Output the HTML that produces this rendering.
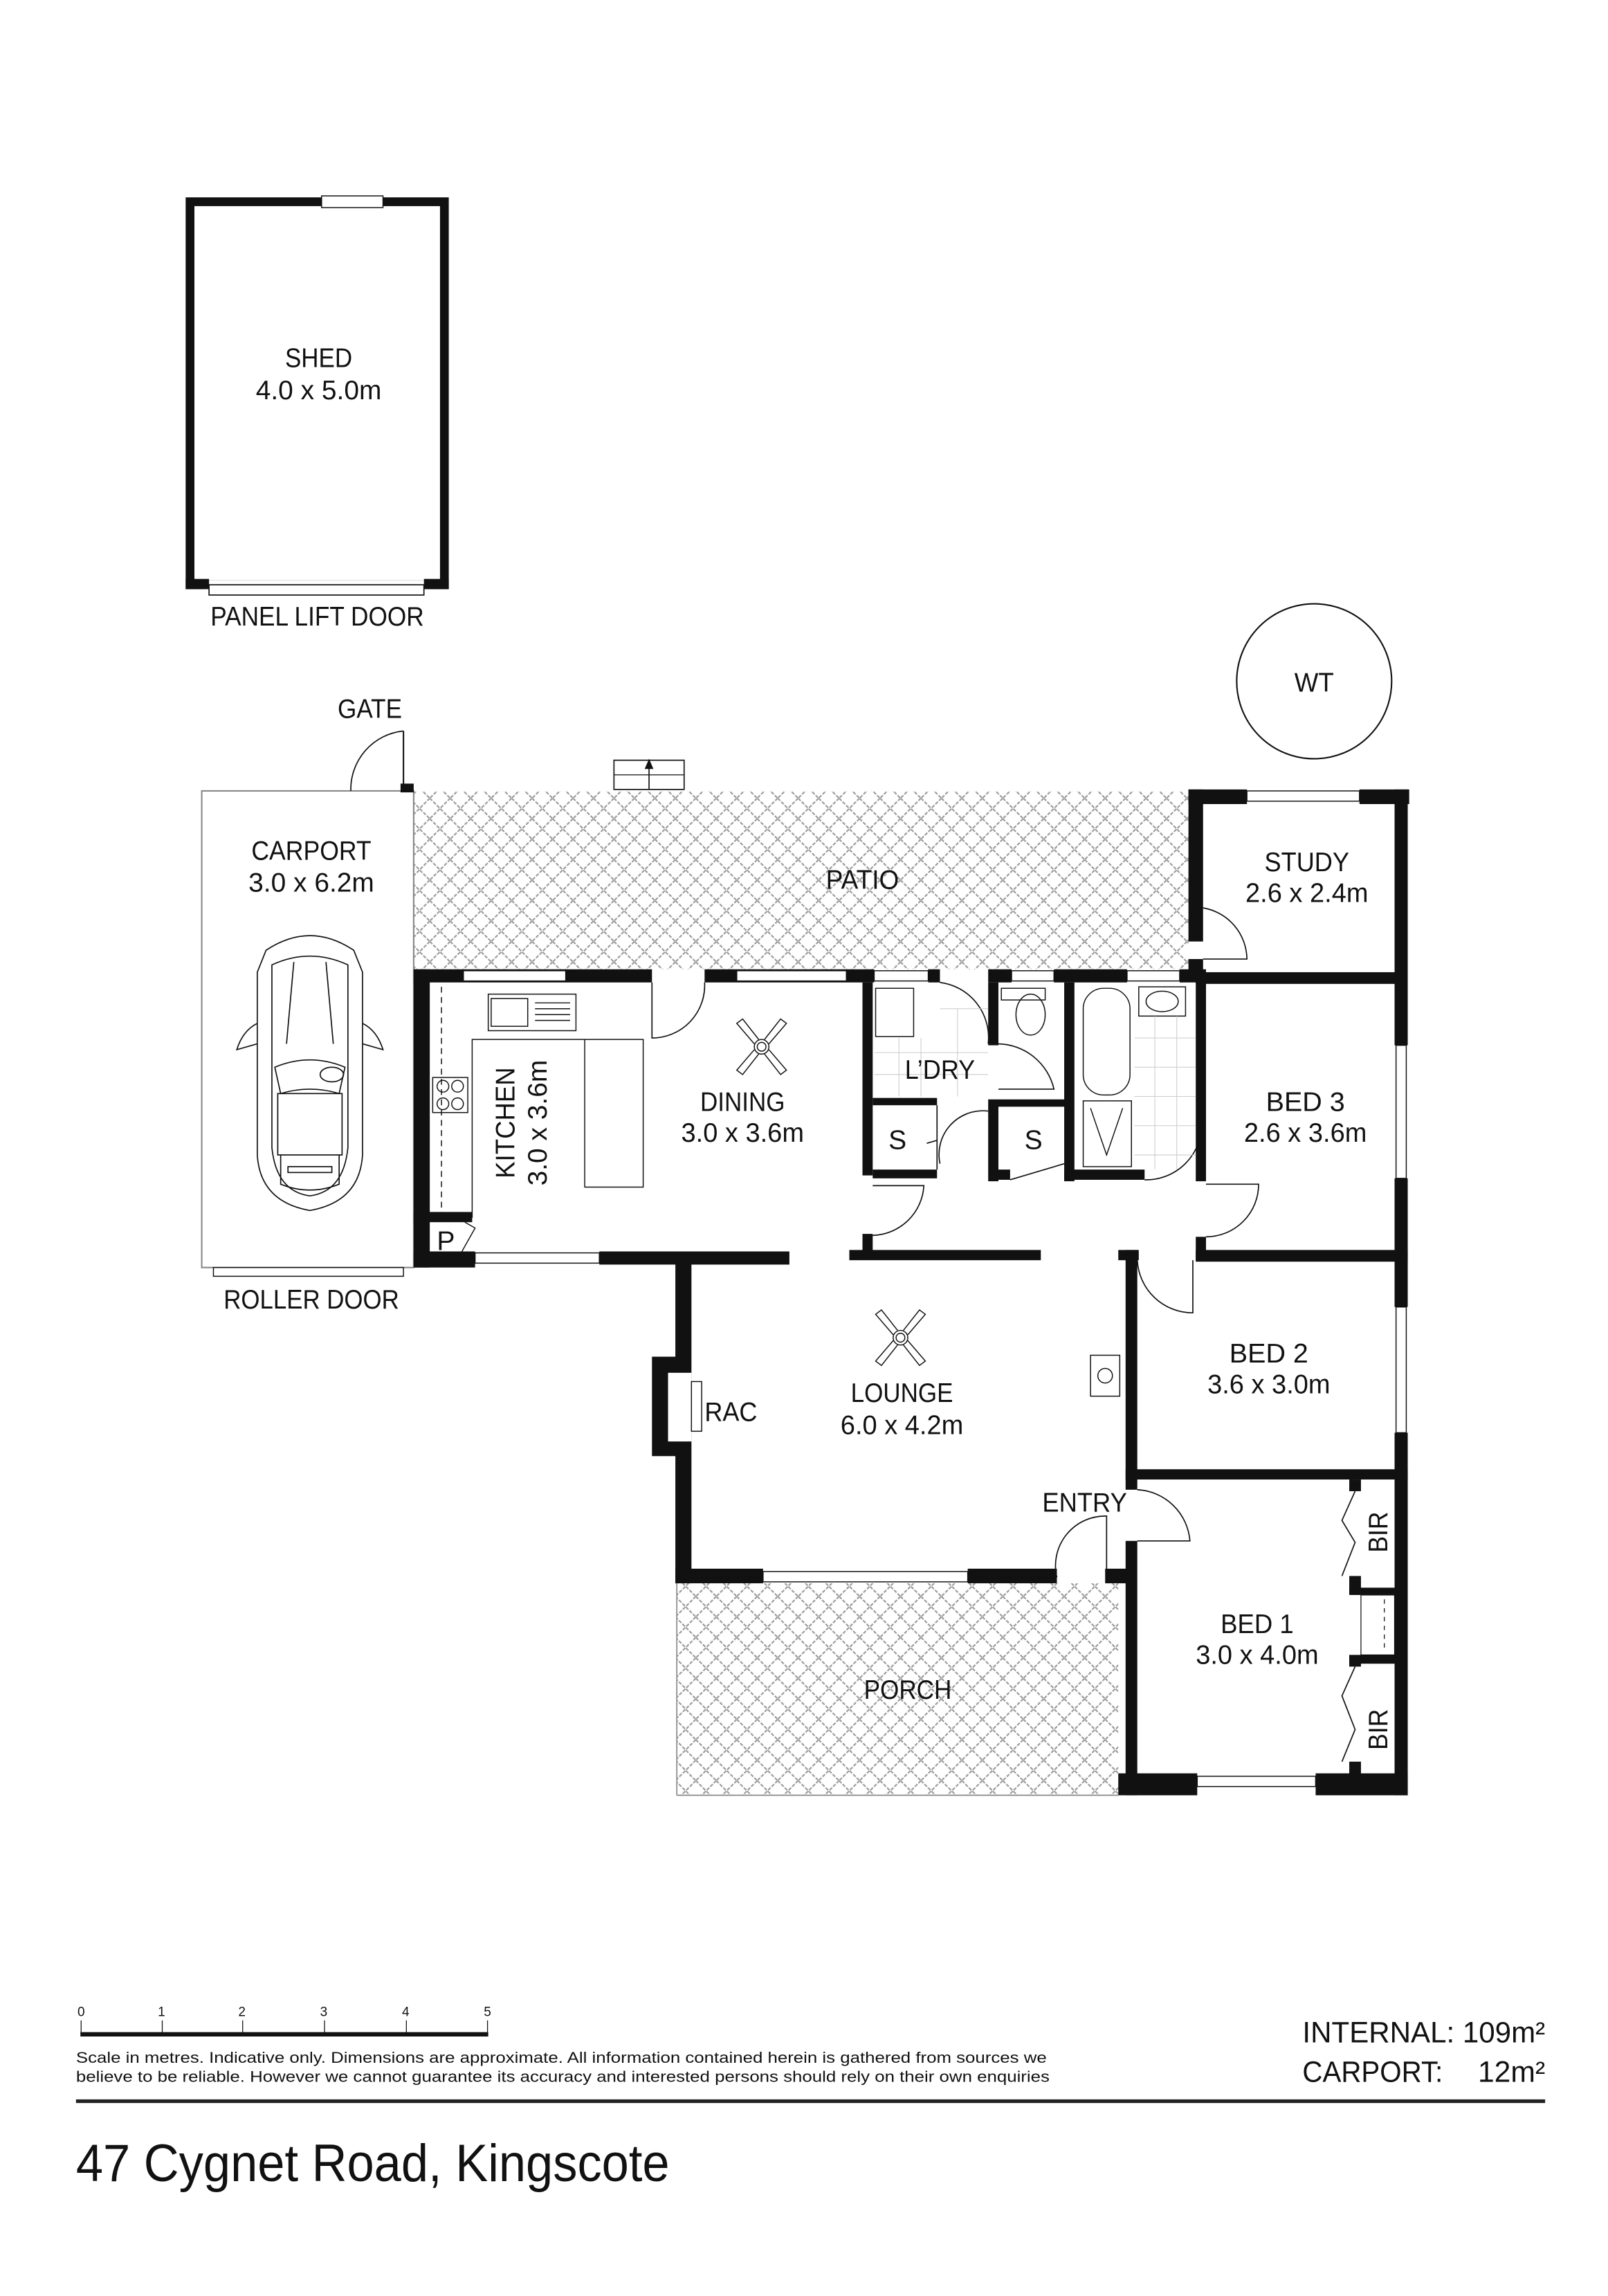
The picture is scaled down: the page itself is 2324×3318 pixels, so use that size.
<!DOCTYPE html>
<html><head><meta charset="utf-8"><style>
html,body{margin:0;padding:0;background:#fff}
svg{display:block}
text{font-family:"Liberation Sans",sans-serif;fill:#111}
.l{font-size:18.5px;text-anchor:middle}
</style></head><body>
<svg width="2324" height="3318" viewBox="0 0 1100 1570.5" preserveAspectRatio="none" xmlns="http://www.w3.org/2000/svg">
<defs>
<pattern id="h" width="14" height="14" patternUnits="userSpaceOnUse">
<path d="M0 0L14 14M14 0L0 14" stroke="#999" stroke-width="1" stroke-dasharray="2.4 1" fill="none"/>
</pattern>
</defs>
<rect width="1100" height="1570.5" fill="#fff"/>

<!-- SHED -->
<rect x="130" y="138" width="174" height="262" fill="none" stroke="#111" stroke-width="6"/>
<rect x="220" y="134" width="42" height="8" fill="#fff" stroke="#111" stroke-width="0.7"/>
<rect x="140" y="397" width="152" height="10" fill="#fff"/>
<rect x="143" y="400" width="147" height="7" fill="#fff" stroke="#111" stroke-width="0.8"/>
<rect x="127" y="396" width="16" height="7" fill="#111"/><rect x="290" y="396" width="17" height="7" fill="#111"/>
<text class="l" x="218" y="251" textLength="46" lengthAdjust="spacingAndGlyphs">SHED</text>
<text class="l" x="218" y="273" textLength="86" lengthAdjust="spacingAndGlyphs">4.0 x 5.0m</text>
<text class="l" x="217" y="428" textLength="146" lengthAdjust="spacingAndGlyphs">PANEL LIFT DOOR</text>

<!-- WT -->
<circle cx="899" cy="466" r="53" fill="none" stroke="#111" stroke-width="1"/>
<text class="l" x="899" y="473" textLength="27" lengthAdjust="spacingAndGlyphs">WT</text>

<!-- Patio / Porch hatching -->
<rect x="283" y="541" width="530" height="122" fill="url(#h)"/>
<rect x="463" y="1083" width="302" height="145" fill="url(#h)"/>
<line x1="463" y1="1083" x2="463" y2="1228" stroke="#888" stroke-width="0.8"/>
<line x1="463" y1="1228" x2="765" y2="1228" stroke="#888" stroke-width="0.8"/>
<!-- vent box -->
<rect x="420" y="520" width="48" height="20" fill="#fff" stroke="#111" stroke-width="0.8"/>
<line x1="420" y1="530" x2="468" y2="530" stroke="#111" stroke-width="0.6"/>
<line x1="444" y1="520" x2="444" y2="540" stroke="#111" stroke-width="0.8"/>
<path d="M441 526L444 519L447 526Z" fill="#111"/>

<!-- CARPORT -->
<rect x="138" y="541" width="145" height="326" fill="none" stroke="#888" stroke-width="1"/>
<rect x="146" y="867" width="130" height="6" fill="#fff" stroke="#111" stroke-width="0.7"/>
<path d="M240 541 A40 40 0 0 1 276 500" fill="none" stroke="#111" stroke-width="0.8"/>
<line x1="276" y1="500" x2="276" y2="541" stroke="#111" stroke-width="1"/>
<rect x="274" y="536" width="9" height="6" fill="#111"/>
<!-- car -->
<g fill="none" stroke="#111" stroke-width="0.8">
<path d="M182 650 Q212 630 242 650 L248 665 L248 790 Q246 822 212 828 Q178 822 176 790 L176 665 Z"/>
<path d="M186 660 Q212 648 238 660 L238 785 Q235 815 212 818 Q189 815 186 785 Z"/>
<path d="M188 730 Q212 720 236 730 L232 748 Q212 742 192 748 Z"/>
<rect x="190" y="748" width="44" height="42"/>
<path d="M192 790 L192 810 Q212 818 232 810 L232 790"/>
<rect x="197" y="798" width="30" height="4"/>
<path d="M201 658 L196 714 M223 658 L228 714"/>
<path d="M176 700 Q166 705 162 718 L176 714 M248 700 Q258 705 262 718 L248 714"/>
<ellipse cx="227" cy="735" rx="8" ry="5"/>
</g>

<text class="l" x="253" y="491" textLength="44" lengthAdjust="spacingAndGlyphs">GATE</text>
<text class="l" x="213" y="588" textLength="82" lengthAdjust="spacingAndGlyphs">CARPORT</text>
<text class="l" x="213" y="610" textLength="86" lengthAdjust="spacingAndGlyphs">3.0 x 6.2m</text>
<text class="l" x="213" y="895" textLength="120" lengthAdjust="spacingAndGlyphs">ROLLER DOOR</text>
<text class="l" x="590" y="608" textLength="50" lengthAdjust="spacingAndGlyphs">PATIO</text>

<!-- WALLS -->
<g fill="#111">
<rect x="283" y="663" width="163" height="9"/>
<rect x="482" y="663" width="108" height="9"/>
<rect x="590" y="663" width="8" height="9"/>
<rect x="635" y="663" width="8" height="9"/>
<rect x="676" y="663" width="16" height="9"/>
<rect x="721" y="663" width="50" height="9"/>
<rect x="807" y="663" width="18" height="9"/>
<rect x="813" y="540" width="40" height="10"/>
<rect x="930" y="540" width="34" height="10"/>
<rect x="813" y="540" width="10" height="104"/>
<rect x="813" y="656" width="10" height="10"/>
<rect x="818" y="665" width="144" height="8"/>
<rect x="954" y="540" width="9" height="175"/>
<rect x="954" y="806" width="9" height="88"/>
<rect x="954" y="980" width="9" height="248"/>
<rect x="818" y="665" width="7" height="143"/>
<rect x="818" y="846" width="7" height="16"/>
<rect x="818" y="855" width="145" height="8"/>
<rect x="283" y="663" width="11" height="204"/>
<rect x="283" y="829" width="40" height="7"/>
<rect x="283" y="856" width="42" height="11"/>
<rect x="410" y="856" width="130" height="9"/>
<rect x="581" y="855" width="131" height="7"/>
<rect x="765" y="855" width="14" height="7"/>
<rect x="590" y="672" width="7" height="132"/>
<rect x="590" y="844" width="7" height="15"/>
<rect x="597" y="751" width="44" height="5"/>
<rect x="597" y="800" width="44" height="6"/>
<rect x="676" y="672" width="7" height="43"/>
<rect x="676" y="752" width="7" height="56"/>
<rect x="683" y="752" width="47" height="5"/>
<rect x="683" y="800" width="8" height="7"/>
<rect x="728" y="672" width="7" height="136"/>
<rect x="728" y="800" width="55" height="7"/>
<rect x="462" y="862" width="11" height="221"/>
<rect x="446" y="928" width="20" height="68"/>
<rect x="462" y="1073" width="60" height="10"/>
<rect x="662" y="1073" width="61" height="10"/>
<rect x="756" y="1073" width="21" height="10"/>
<rect x="770" y="855" width="8" height="164"/>
<rect x="770" y="1054" width="8" height="174"/>
<rect x="770" y="1005" width="193" height="7"/>
<rect x="765" y="1213" width="54" height="15"/>
<rect x="900" y="1213" width="63" height="15"/>
<rect x="923" y="1012" width="8" height="8"/>
<rect x="923" y="1078" width="8" height="12"/>
<rect x="923" y="1086" width="35" height="5"/>
<rect x="923" y="1132" width="35" height="6"/>
<rect x="923" y="1132" width="8" height="8"/>
<rect x="923" y="1205" width="8" height="10"/>
</g>
<rect x="457" y="939" width="16" height="47" fill="#fff"/>
<rect x="473" y="945" width="7" height="34" fill="#fff" stroke="#111" stroke-width="0.7"/>
<rect x="931" y="1091" width="23" height="41" fill="#fff" stroke="#111" stroke-width="0.6"/>
<line x1="947" y1="1094" x2="947" y2="1130" stroke="#111" stroke-width="0.6" stroke-dasharray="3 3"/>

<g fill="#fff" stroke="#111" stroke-width="0.7">
<rect x="317" y="664" width="70" height="7"/>
<rect x="504" y="664" width="75" height="7"/>
<rect x="598" y="664" width="37" height="7"/>
<rect x="692" y="664" width="29" height="7"/>
<rect x="771" y="664" width="36" height="7"/>
<rect x="853" y="541" width="77" height="7"/>
<rect x="955" y="715" width="7" height="91"/>
<rect x="955" y="894" width="7" height="86"/>
<rect x="325" y="857" width="85" height="7"/>
<rect x="522" y="1075" width="140" height="7"/>
<rect x="819" y="1215" width="81" height="7"/>
</g>

<g fill="none" stroke="#111" stroke-width="0.8">
<path d="M446 672 L446 710 A36 36 0 0 0 482 672"/>
<path d="M643 672 A38 38 0 0 1 676 714"/>
<path d="M683 714 A40 40 0 0 1 721 745 L683 745"/>
<path d="M823 621 A36 36 0 0 1 853 656 L823 656"/>
<path d="M597 811 L632 811 A36 36 0 0 1 597 845"/>
<path d="M825 810 L861 810 A36 36 0 0 1 825 846"/>
<path d="M778 862 A38 38 0 0 0 816 898 L816 862"/>
<path d="M778 1019 A38 38 0 0 1 814 1054 L778 1054"/>
<path d="M723 1079 A34 34 0 0 1 757 1037 L757 1079"/>
<path d="M641 756 L641 800 M634 782 L641 780"/>
<path d="M691 807 L728 796"/>
<path d="M643 796 A30 30 0 0 1 676 760"/>
<path d="M783 807 A38 38 0 0 0 822 768"/>
<path d="M927 1020 L918 1040 L927 1055 L918 1078"/>
<path d="M927 1140 L918 1160 L927 1183 L918 1205"/>
</g>

<g fill="none" stroke="#111" stroke-width="0.7">
<rect x="334" y="680" width="60" height="25"/>
<rect x="336" y="683" width="25" height="19"/>
<path d="M366 686H390M366 690H390M366 694H390M366 698H390"/>
<path d="M323 833 L323 711 L440 711 L440 812 L400 812 L400 711"/>
<line x1="302" y1="675" x2="302" y2="830" stroke-dasharray="4 3"/>
<rect x="296" y="737" width="24" height="24"/>
<circle cx="303" cy="743" r="4"/><circle cx="313" cy="743" r="4"/>
<circle cx="303" cy="755" r="4"/><circle cx="313" cy="755" r="4"/>
<path d="M318 836 L325 840 L316 856"/>
<rect x="599" y="676" width="26" height="33"/>
<rect x="685" y="676" width="30" height="8"/>
<ellipse cx="705" cy="694" rx="10" ry="14"/>
<rect x="741" y="676" width="32" height="73" rx="14"/>
<rect x="741" y="753" width="33" height="45"/>
<path d="M746 758 L757 790 L768 758"/>
<rect x="779" y="675" width="32" height="20"/>
<ellipse cx="795" cy="685" rx="11" ry="7"/>
<g transform="translate(521,716)"><circle r="5"/><circle r="3"/><path d="M-5-2L-17-16L-13-19L-2-5M5-2L17-16L13-19L2-5M-5 2L-17 16L-13 19L-2 5M5 2L17 16L13 19L2 5"/></g>
<g transform="translate(616,915)"><circle r="5"/><circle r="3"/><path d="M-5-2L-17-16L-13-19L-2-5M5-2L17-16L13-19L2-5M-5 2L-17 16L-13 19L-2 5M5 2L17 16L13 19L2 5"/></g>
<rect x="746" y="927" width="20" height="28"/>
<circle cx="756" cy="941" r="5"/>
</g>
<g stroke="#ccc" stroke-width="0.5">
<path d="M598 720H676M598 735H676M643 690H676M776 710H818M776 730H818M776 750H818M776 770H818M776 790H818M790 695V800M805 695V800M615 710V750M630 710V750M655 690V750"/>
</g>

<text class="l" x="894" y="596" textLength="58" lengthAdjust="spacingAndGlyphs">STUDY</text>
<text class="l" x="894" y="617" textLength="84" lengthAdjust="spacingAndGlyphs">2.6 x 2.4m</text>
<text class="l" x="643" y="738" textLength="48" lengthAdjust="spacingAndGlyphs">L’DRY</text>
<text class="l" x="508" y="760" textLength="58" lengthAdjust="spacingAndGlyphs">DINING</text>
<text class="l" x="508" y="781" textLength="84" lengthAdjust="spacingAndGlyphs">3.0 x 3.6m</text>
<text class="l" transform="translate(352,768) rotate(-90)" textLength="76" lengthAdjust="spacingAndGlyphs">KITCHEN</text>
<text class="l" transform="translate(374,768) rotate(-90)" textLength="86" lengthAdjust="spacingAndGlyphs">3.0 x 3.6m</text>
<text class="l" x="614" y="786">S</text>
<text class="l" x="707" y="786">S</text>
<text class="l" x="893" y="760" textLength="54" lengthAdjust="spacingAndGlyphs">BED 3</text>
<text class="l" x="893" y="781" textLength="84" lengthAdjust="spacingAndGlyphs">2.6 x 3.6m</text>
<text class="l" x="305" y="855">P</text>
<text class="l" x="617" y="959" textLength="70" lengthAdjust="spacingAndGlyphs">LOUNGE</text>
<text class="l" x="617" y="981" textLength="84" lengthAdjust="spacingAndGlyphs">6.0 x 4.2m</text>
<text class="l" x="500" y="972" textLength="36" lengthAdjust="spacingAndGlyphs">RAC</text>
<text class="l" x="868" y="932" textLength="54" lengthAdjust="spacingAndGlyphs">BED 2</text>
<text class="l" x="868" y="953" textLength="84" lengthAdjust="spacingAndGlyphs">3.6 x 3.0m</text>
<text class="l" x="742" y="1034" textLength="58" lengthAdjust="spacingAndGlyphs">ENTRY</text>
<text class="l" x="860" y="1117" textLength="50" lengthAdjust="spacingAndGlyphs">BED 1</text>
<text class="l" x="860" y="1138" textLength="84" lengthAdjust="spacingAndGlyphs">3.0 x 4.0m</text>
<text class="l" transform="translate(949,1048) rotate(-90)" textLength="28" lengthAdjust="spacingAndGlyphs">BIR</text>
<text class="l" transform="translate(949,1183) rotate(-90)" textLength="28" lengthAdjust="spacingAndGlyphs">BIR</text>
<text class="l" x="621" y="1162" textLength="60" lengthAdjust="spacingAndGlyphs">PORCH</text>

<g font-size="9">
<text x="53" y="1379">0</text><text x="108" y="1379">1</text><text x="163" y="1379">2</text><text x="219" y="1379">3</text><text x="275" y="1379">4</text><text x="331" y="1379">5</text>
</g>
<g stroke="#111" stroke-width="0.6"><path d="M55.5 1382V1392M111 1382V1392M166 1382V1392M222 1382V1392M278 1382V1392M333.5 1382V1392"/></g>
<rect x="55" y="1390" width="279" height="3" fill="#111"/>
<text x="52" y="1411" font-size="10.5" textLength="664" lengthAdjust="spacingAndGlyphs">Scale in metres. Indicative only. Dimensions are approximate. All information contained herein is gathered from sources we</text>
<text x="52" y="1424" font-size="10.5" textLength="666" lengthAdjust="spacingAndGlyphs">believe to be reliable. However we cannot guarantee its accuracy and interested persons should rely on their own enquiries</text>
<text x="891" y="1397" font-size="20" textLength="166" lengthAdjust="spacingAndGlyphs">INTERNAL: 109m²</text>
<text x="891" y="1424" font-size="20" textLength="96" lengthAdjust="spacingAndGlyphs">CARPORT:</text>
<text x="1057" y="1424" font-size="20" text-anchor="end" textLength="46" lengthAdjust="spacingAndGlyphs">12m²</text>
<rect x="52" y="1436" width="1005" height="2.5" fill="#222"/>
<text x="52" y="1492" font-size="36" textLength="406" lengthAdjust="spacingAndGlyphs">47 Cygnet Road, Kingscote</text>
</svg>
</body></html>
